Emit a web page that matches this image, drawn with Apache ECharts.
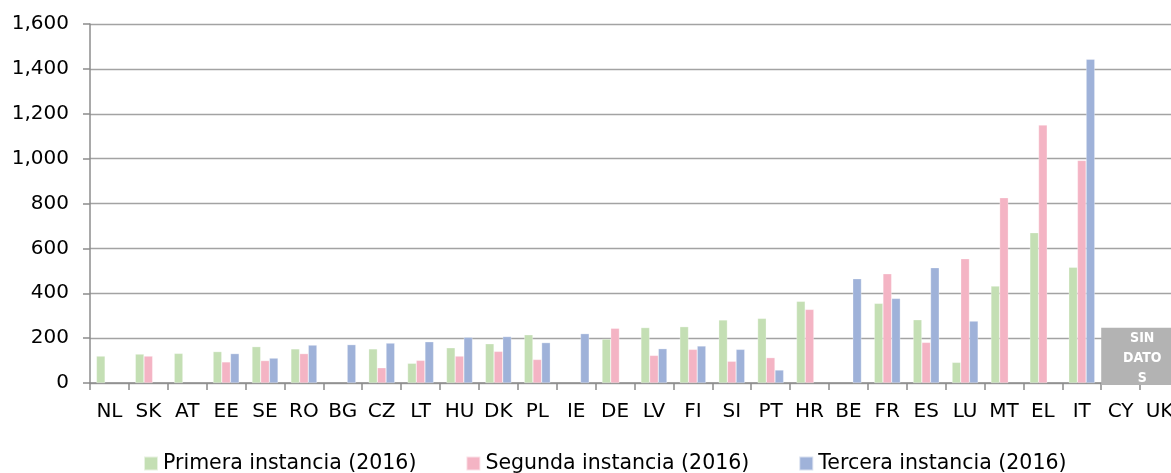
<!DOCTYPE html>
<html>
<head>
<meta charset="utf-8">
<script src="https://cdn.jsdelivr.net/npm/echarts@6/dist/echarts.min.js"></script>
<style>
  html, body { margin: 0; padding: 0; background: #fff; }
  #chart { width: 1171px; height: 473px; }
</style>
</head>
<body>
<div id="chart"></div>
<script>
// Countries (x axis)
const countries = ["NL", "SK", "AT", "EE", "SE", "RO", "BG", "CZ", "LT", "HU", "DK", "PL", "IE", "DE",
  "LV", "FI", "SI", "PT", "HR", "BE", "FR", "ES", "LU", "MT", "EL", "IT", "CY", "UK"];

// Values, null = no bar
const primera = [120, 129, 132, 140, 162, 152, null, 152, 88, 157, 175, 215, null, 196,
  247, 251, 281, 288, 364, null, 355, 282, 92, 432, 670, 516, null, null];
const segunda = [null, 120, null, 94, 100, 131, null, 68, 101, 120, 141, 105, null, 244,
  123, 150, 97, 113, 328, null, 487, 181, 554, 826, 1150, 992, null, null];
const tercera = [null, null, null, 131, 111, 169, 171, 178, 184, 204, 207, 180, 220, null,
  153, 165, 150, 58, null, 465, 377, 514, 276, null, null, 1443, null, null];

const seriesNames = ["Primera instancia (2016)", "Segunda instancia (2016)", "Tercera instancia (2016)"];
const yTicks = { min: 0, max: 1600, interval: 200 };
const noDataLabel = "SIN\nDATO\nS";
const noDataFrom = "CY";
const noDataTop = 246;

const colors = ["#c4dfb4", "#f4b4c4", "#9fb2d9"];
const font = "DejaVu Sans";

var chartDom = document.getElementById('chart');
var myChart = echarts.init(chartDom);

const option = {
  animation: false,
  color: colors,
  grid: {
    left: 90,
    width: 1089, // plot runs a bit past the right edge, like the original crop
    top: 24,
    bottom: 90,
    containLabel: false,
    outerBoundsMode: 'none',
  },
  legend: {
    data: seriesNames,
    left: 143,
    top: 453,
    padding: 0,
    icon: "rect",
    itemWidth: 14,
    itemHeight: 14,
    itemGap: 49,
    textStyle: { fontFamily: font, fontSize: 20.5, color: "#000" },
  },
  xAxis: {
    type: "category",
    data: countries,
    axisLine: { lineStyle: { color: "#8c8c8c", width: 1.5 } },
    axisTick: { show: true, length: 7, lineStyle: { color: "#8c8c8c", width: 1.5 } },
    axisLabel: { fontFamily: font, fontSize: 20, color: "#000", margin: 19, interval: 0 },
  },
  yAxis: {
    type: "value",
    min: yTicks.min,
    max: yTicks.max,
    interval: yTicks.interval,
    axisLine: { show: true, lineStyle: { color: "#8c8c8c", width: 1.5 } },
    axisTick: { show: true, length: 7, lineStyle: { color: "#8c8c8c", width: 1.5 } },
    splitLine: { lineStyle: { color: "#a3a3a3", width: 1.3 } },
    axisLabel: {
      fontFamily: font, fontSize: 20, color: "#000", margin: 21,
      formatter: v => v.toLocaleString("en-US"),
    },
  },
  series: seriesNames.map((name, i) => ({
    name: name,
    type: "bar",
    barGap: 0,
    barCategoryGap: "33%",
    itemStyle: { borderColor: "rgba(255,255,255,0.6)", borderWidth: 0.5 },
    data: [primera, segunda, tercera][i],
  })),
};

myChart.setOption(option);

// "no data" box over the last categories, placed through the axes
const bandWidth = myChart.getModel().getComponent('xAxis').axis.getBandWidth();
const corner = myChart.convertToPixel({ xAxisIndex: 0, yAxisIndex: 0 }, [noDataFrom, noDataTop]);
const base = myChart.convertToPixel({ yAxisIndex: 0 }, 0);
const boxLeft = corner[0] - bandWidth / 2;
myChart.setOption({
  graphic: [{
    type: "rect",
    shape: { x: boxLeft, y: corner[1], width: 82, height: base - corner[1] + 2 },
    style: { fill: "#b3b3b3" },
    z: 100,
  }, {
    type: "text",
    x: boxLeft + 41,
    y: corner[1] + 1,
    z: 101,
    style: {
      text: noDataLabel,
      fill: "#fff",
      font: "bold 14px 'Liberation Sans Narrow', 'DejaVu Sans Condensed', sans-serif",
      align: "center",
      verticalAlign: "top",
      lineHeight: 20,
    },
  }],
});

window.addEventListener('resize', () => myChart.resize());
</script>
</body>
</html>
